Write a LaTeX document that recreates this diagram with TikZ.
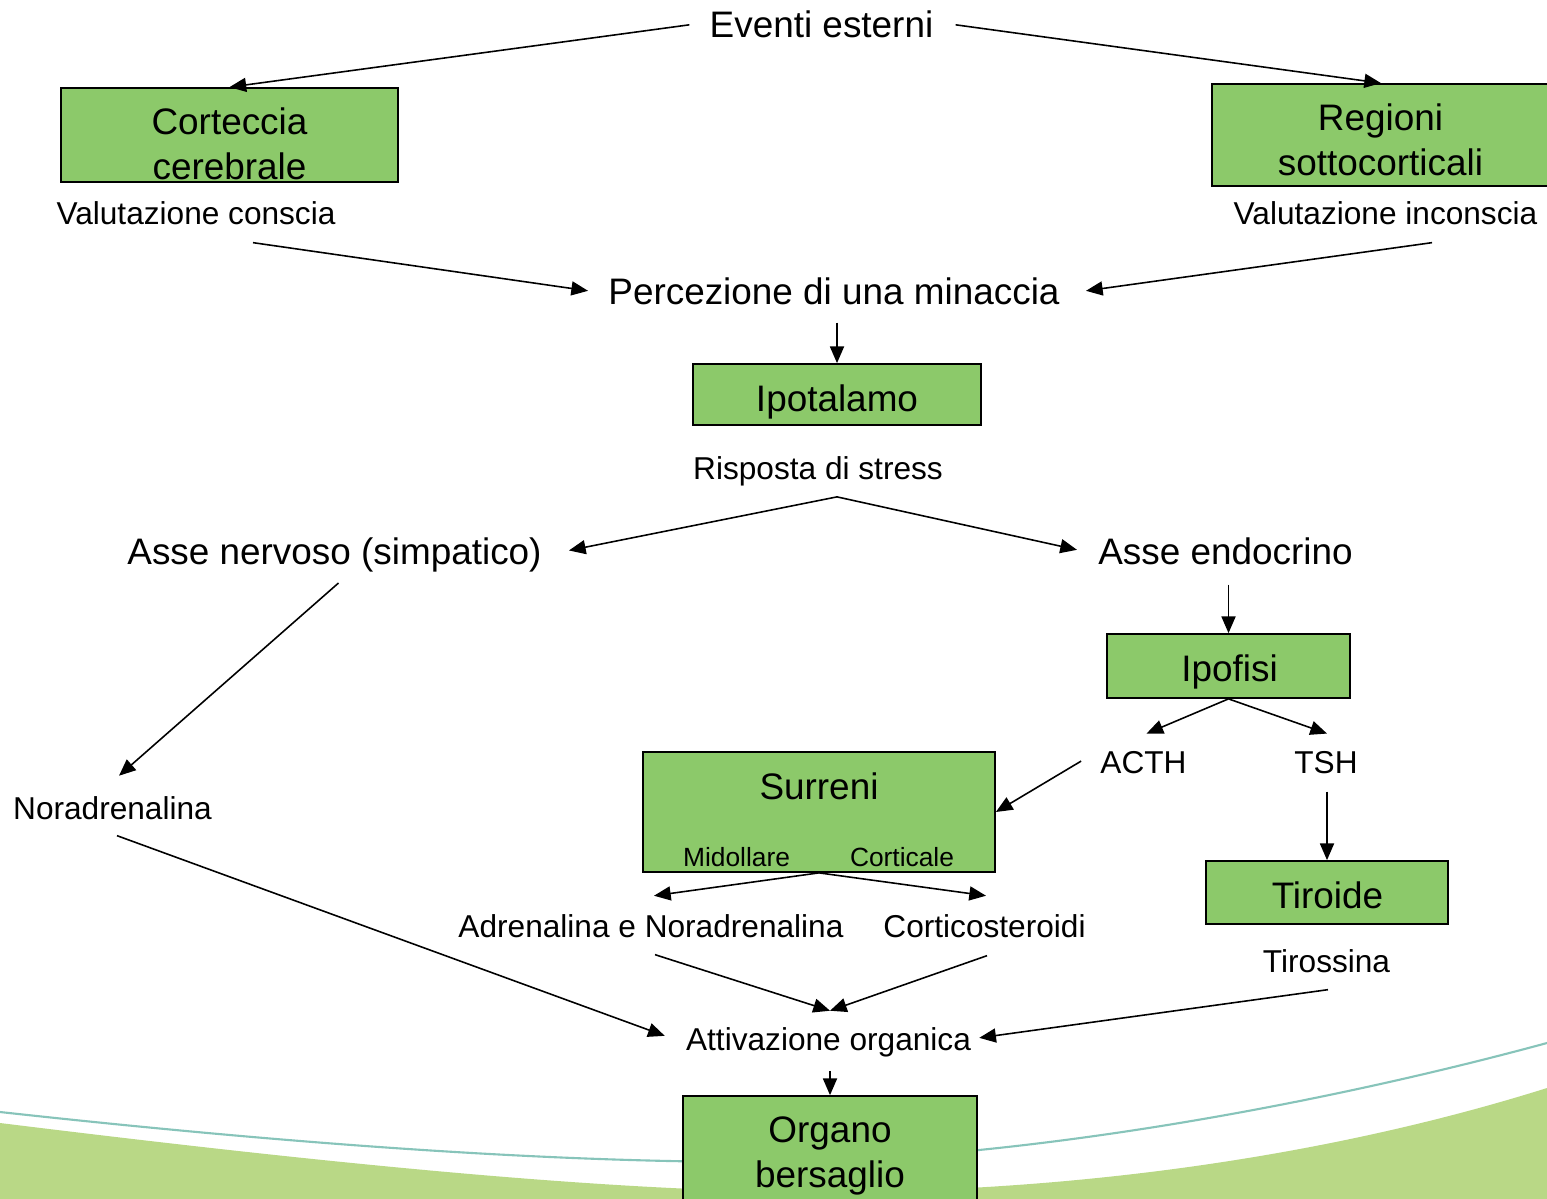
\documentclass[tikz,border=0pt]{standalone}
\usepackage{fontspec}
\setmainfont{Liberation Sans}
\usetikzlibrary{arrows.meta,calc}
\definecolor{boxgreen}{RGB}{140,201,106}
\definecolor{bggreen}{RGB}{185,216,134}
\definecolor{bgline}{RGB}{135,196,186}
\tikzset{
  boxnode/.style={draw=black,fill=boxgreen,line width=1pt,inner sep=0pt},
  bigtxt/.style={inner sep=0pt,anchor=base,font=\fontsize{21}{25.5}\selectfont},
  boxtxt/.style={inner sep=0pt,anchor=center,align=center,font=\fontsize{21}{25.5}\selectfont},
  smalltxt/.style={inner sep=0pt,anchor=base,font=\fontsize{18}{21.6}\selectfont},
  tinytxt/.style={inner sep=0pt,anchor=base,font=\fontsize{15}{18}\selectfont},
  arr/.style={line width=0.9pt,-{Triangle[length=9.5pt,width=8pt]}},
  ln/.style={line width=0.9pt}
}
\begin{document}
\begin{tikzpicture}[x=0.02cm,y=-0.02cm]
\useasboundingbox (0,0) rectangle (1547,1199);
\clip (0,0) rectangle (1547,1199);
\fill[white] (0,0) rectangle (1547,1199);
% background swoosh
\fill[bggreen] (0,1123) .. controls (300,1160) and (600,1192) .. (820,1192)
  .. controls (1100,1192) and (1350,1150) .. (1547,1088) -- (1547,1199) -- (0,1199) -- cycle;
\draw[bgline,line width=1.2pt] (0,1112) .. controls (300,1145) and (550,1162) .. (760,1162)
  .. controls (1000,1162) and (1300,1110) .. (1547,1043);

% boxes
\node[boxnode,minimum width=6.74cm,minimum height=1.88cm] (cort) at (229.5,135) {};
\node[boxnode,minimum width=6.76cm,minimum height=2.04cm] (reg) at (1381,135) {};
\node[boxnode,minimum width=5.76cm,minimum height=1.22cm] (ipot) at (837,394.5) {};
\node[boxnode,minimum width=4.86cm,minimum height=1.28cm] (ipof) at (1228.5,666) {};
\node[boxnode,minimum width=7.04cm,minimum height=2.4cm] (surr) at (819,812) {};
\node[boxnode,minimum width=4.84cm,minimum height=1.26cm] (tir) at (1327,892.5) {};
\node[boxnode,minimum width=5.88cm,minimum height=2.4cm] (org) at (830,1156) {};

% box texts
\node[boxtxt] (cortT) at (229.5,144) {Corteccia\\cerebrale};
\node[boxtxt] (regT) at (1380.5,140) {Regioni\\sottocorticali};
\node[bigtxt] (ipotT) at (837,411) {Ipotalamo};
\node[bigtxt] (ipofT) at (1229.5,681) {Ipofisi};
\node[bigtxt] (surrT) at (819,799) {Surreni};
\node[tinytxt] (mid) at (736.5,866) {Midollare};
\node[tinytxt] (cortic) at (902,866) {Corticale};
\node[bigtxt] (tirT) at (1327.5,908) {Tiroide};
\node[boxtxt] (orgT) at (830,1156) {Organo\\bersaglio};

% free texts
\node[bigtxt] (ev) at (821.5,38) {Eventi esterni};
\node[smalltxt] (valc) at (196,225) {Valutazione conscia};
\node[smalltxt] (vali) at (1385.5,225) {Valutazione inconscia};
\node[bigtxt] (perc) at (834,305) {Percezione di una minaccia};
\node[smalltxt] (risp) at (818,479) {Risposta di stress};
\node[bigtxt] (nerv) at (334.5,564) {Asse nervoso (simpatico)};
\node[bigtxt] (endo) at (1225.5,564) {Asse endocrino};
\node[smalltxt] (acth) at (1143.5,773) {ACTH};
\node[smalltxt] (tsh) at (1326,773) {TSH};
\node[smalltxt] (nora) at (112.5,819) {Noradrenalina};
\node[smalltxt] (adr) at (651,937) {Adrenalina e Noradrenalina};
\node[smalltxt] (cortico) at (984.5,937) {Corticosteroidi};
\node[smalltxt] (tiross) at (1326.5,972) {Tirossina};
\node[smalltxt] (att) at (828.5,1050) {Attivazione organica};

% connectors
\draw[arr] ($(ev.west)+(-20,0)$) -- (cort.north);
\draw[arr] ($(ev.east)+(22,0)$) -- (reg.north);
\draw[arr] ($(valc.south)+(57,17)$) -- ($(perc.west)+(-20,-1)$);
\draw[arr] ($(vali.south)+(46.5,17)$) -- ($(perc.east)+(26,-1)$);
\draw[arr] ($(perc.south -| ipot.north)+(0,17)$) -- (ipot.north);
\coordinate (br) at ($(ipot.south)+(0,71)$);
\draw[arr] (br) -- ($(nerv.east)+(27,-4)$);
\draw[arr] (br) -- ($(endo.west)+(-21,-1)$);
\draw[arr] ($(endo.south -| ipof.north)+(0,20)$) -- (ipof.north);
\draw[arr] (ipof.south) -- ($(acth.north)+(3,-17)$);
\draw[arr] (ipof.south) -- ($(tsh.north)+(1,-17)$);
\draw[arr] ($(acth.west)+(-19,-1)$) -- (surr.east);
\draw[arr] ($(tsh.south -| tir.north)+(0,18)$) -- (tir.north);
\draw[arr] ($(nerv.south)+(4,11)$) -- ($(nora.north)+(6.5,-20)$);
\draw[arr] (surr.south) -- ($(adr.north)+(3,-18)$);
\draw[arr] (surr.south) -- ($(cortico.north)+(1.5,-18)$);
\draw[arr] ($(nora.south)+(4.5,16)$) -- ($(att.west)+(-21,-6)$);
\draw[arr] ($(adr.south)+(4,17)$) -- ($(att.north)+(1.5,-16)$);
\draw[arr] ($(cortico.south)+(2.5,18)$) -- ($(att.north)+(1.5,-16)$);
\draw[arr] ($(tiross.south)+(1.5,17)$) -- ($(att.east)+(8,-4)$);
\draw[arr] ($(att.south -| org.north)+(0,14)$) -- (org.north);
\end{tikzpicture}
\end{document}
